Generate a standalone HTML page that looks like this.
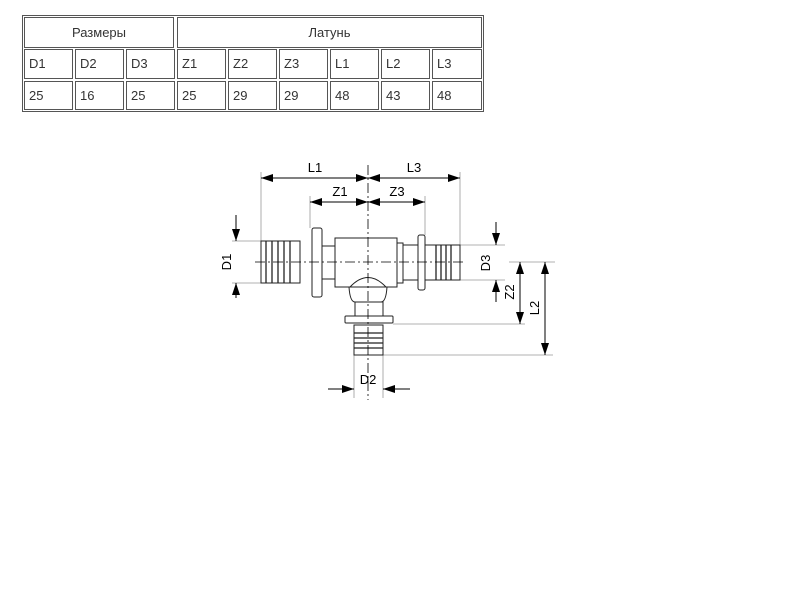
<!DOCTYPE html>
<html><head><meta charset="utf-8"><style>
body{margin:0;width:800px;height:600px;background:#fff;position:relative;font-family:"Liberation Sans",sans-serif;overflow:hidden}
.c{position:absolute;border:1px solid #555;box-sizing:border-box;font-size:13px;color:#333;line-height:28px;padding-left:4px}
.h{text-align:center;padding-left:0}
.o{position:absolute;left:22px;top:15px;width:462px;height:97px;border:1px solid #555;box-sizing:border-box}
</style></head><body>
<div class="o"></div>
<div class="c h" style="left:24px;top:17px;width:150px;height:31px;line-height:29px">Размеры</div>
<div class="c h" style="left:177px;top:17px;width:305px;height:31px;line-height:29px">Латунь</div>
<div class="c" style="left:24px;top:49px;width:49px;height:30px">D1</div>
<div class="c" style="left:75px;top:49px;width:49px;height:30px">D2</div>
<div class="c" style="left:126px;top:49px;width:49px;height:30px">D3</div>
<div class="c" style="left:177px;top:49px;width:49px;height:30px">Z1</div>
<div class="c" style="left:228px;top:49px;width:49px;height:30px">Z2</div>
<div class="c" style="left:279px;top:49px;width:49px;height:30px">Z3</div>
<div class="c" style="left:330px;top:49px;width:49px;height:30px">L1</div>
<div class="c" style="left:381px;top:49px;width:49px;height:30px">L2</div>
<div class="c" style="left:432px;top:49px;width:50px;height:30px">L3</div>
<div class="c" style="left:24px;top:81px;width:49px;height:29px">25</div>
<div class="c" style="left:75px;top:81px;width:49px;height:29px">16</div>
<div class="c" style="left:126px;top:81px;width:49px;height:29px">25</div>
<div class="c" style="left:177px;top:81px;width:49px;height:29px">25</div>
<div class="c" style="left:228px;top:81px;width:49px;height:29px">29</div>
<div class="c" style="left:279px;top:81px;width:49px;height:29px">29</div>
<div class="c" style="left:330px;top:81px;width:49px;height:29px">48</div>
<div class="c" style="left:381px;top:81px;width:49px;height:29px">43</div>
<div class="c" style="left:432px;top:81px;width:50px;height:29px">48</div>
<svg style="position:absolute;left:0;top:0" width="800" height="600">
<defs><marker id="a" markerWidth="12" markerHeight="8" refX="12" refY="4" orient="auto-start-reverse" markerUnits="userSpaceOnUse"><path d="M0,0L12,4L0,8z" fill="#000"/></marker></defs>
<g stroke="#999" stroke-width="0.8" fill="none">
<line x1="261" y1="172" x2="261" y2="241"/><line x1="460" y1="172" x2="460" y2="245"/>
<line x1="310" y1="196" x2="310" y2="228"/><line x1="425" y1="196" x2="425" y2="235"/>
<line x1="232" y1="241" x2="261" y2="241"/><line x1="232" y1="283" x2="261" y2="283"/>
<line x1="460" y1="245" x2="505" y2="245"/><line x1="460" y1="280" x2="505" y2="280"/>
<line x1="509" y1="262" x2="555" y2="262"/><line x1="393" y1="324" x2="525" y2="324"/>
<line x1="383" y1="355" x2="553" y2="355"/>
<line x1="354" y1="355" x2="354" y2="398"/><line x1="383" y1="355" x2="383" y2="398"/>
</g>
<g stroke="#000" stroke-width="1" fill="none">
<line x1="261" y1="178" x2="368" y2="178" marker-start="url(#a)" marker-end="url(#a)"/>
<line x1="368" y1="178" x2="460" y2="178" marker-start="url(#a)" marker-end="url(#a)"/>
<line x1="310" y1="202" x2="368" y2="202" marker-start="url(#a)" marker-end="url(#a)"/>
<line x1="368" y1="202" x2="425" y2="202" marker-start="url(#a)" marker-end="url(#a)"/>
<line x1="236" y1="215" x2="236" y2="241" marker-end="url(#a)"/><line x1="236" y1="298" x2="236" y2="283" marker-end="url(#a)"/>
<line x1="496" y1="222" x2="496" y2="245" marker-end="url(#a)"/><line x1="496" y1="302" x2="496" y2="280" marker-end="url(#a)"/>
<line x1="520" y1="262" x2="520" y2="324" marker-start="url(#a)" marker-end="url(#a)"/>
<line x1="545" y1="262" x2="545" y2="355" marker-start="url(#a)" marker-end="url(#a)"/>
<line x1="328" y1="389" x2="354" y2="389" marker-end="url(#a)"/><line x1="410" y1="389" x2="383" y2="389" marker-end="url(#a)"/>
</g>
<g stroke="#222" stroke-width="1" fill="#fff">
<rect x="261" y="241" width="39" height="42"/>
<rect x="322" y="246" width="14" height="33"/>
<rect x="312" y="228" width="10" height="69" rx="2"/>
<path d="M349,287 Q350,302 355,302 L381,302 Q386,302 387,287z"/>
<rect x="335" y="238" width="62" height="49"/>
<rect x="397" y="243" width="6" height="40"/>
<rect x="403" y="245" width="15" height="35"/>
<rect x="418" y="235" width="7" height="55" rx="2"/>
<rect x="425" y="245" width="35" height="35"/>
<rect x="355" y="302" width="28" height="14"/>
<rect x="345" y="316" width="48" height="7" rx="1"/>
<rect x="354" y="325" width="29" height="30"/>
</g>
<g stroke="#222" stroke-width="1.3">
<line x1="266" y1="241" x2="266" y2="283"/><line x1="272" y1="241" x2="272" y2="283"/><line x1="278" y1="241" x2="278" y2="283"/><line x1="284" y1="241" x2="284" y2="283"/><line x1="290" y1="241" x2="290" y2="283"/>
<line x1="436" y1="245" x2="436" y2="280"/><line x1="441" y1="245" x2="441" y2="280"/><line x1="446" y1="245" x2="446" y2="280"/><line x1="451" y1="245" x2="451" y2="280"/>
<line x1="354" y1="333" x2="383" y2="333"/><line x1="354" y1="338" x2="383" y2="338"/><line x1="354" y1="343" x2="383" y2="343"/><line x1="354" y1="348" x2="383" y2="348"/>
</g>
<path d="M350,287 Q368,268 386,287" stroke="#222" fill="none"/>
<g stroke="#000" stroke-width="0.8" stroke-dasharray="10,3,2,3">
<line x1="368" y1="165" x2="368" y2="400"/><line x1="255" y1="262" x2="466" y2="262"/>
</g>
<g font-family="Liberation Sans,sans-serif" font-size="13" fill="#000" text-anchor="middle">
<text x="315" y="172">L1</text><text x="414" y="172">L3</text>
<text x="340" y="196">Z1</text><text x="397" y="196">Z3</text>
<text x="368" y="384">D2</text>
<text transform="translate(231,262) rotate(-90)">D1</text>
<text transform="translate(490,263) rotate(-90)">D3</text>
<text transform="translate(514,292) rotate(-90)">Z2</text>
<text transform="translate(539,308) rotate(-90)">L2</text>
</g>
</svg>
</body></html>
